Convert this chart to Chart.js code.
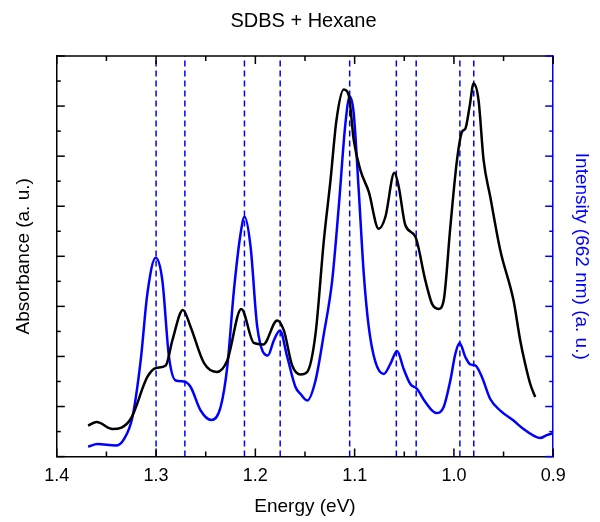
<!DOCTYPE html>
<html>
<head>
<meta charset="utf-8">
<script src="https://cdn.jsdelivr.net/npm/chart.js@4/dist/chart.umd.min.js"></script>
<style>
  html, body { margin: 0; padding: 0; background: #fff; }
  #wrap { width: 600px; height: 522px; }
</style>
</head>
<body>
<div id="wrap"><canvas id="c" width="600" height="522"></canvas></div>
<script>
// absorbance (black, left axis)
const absE = [1.3685, 1.3598, 1.344, 1.3256, 1.3088, 1.300, 1.2903, 1.2836, 1.273, 1.2652, 1.2518, 1.239, 1.2283, 1.2142,
  1.2015, 1.192, 1.178, 1.1713, 1.1629, 1.1545, 1.1478, 1.1394, 1.131, 1.1243, 1.1183, 1.111, 1.106, 1.1009, 1.0942,
  1.0858, 1.0758, 1.069, 1.060, 1.0556, 1.0489, 1.0388, 1.0288, 1.022, 1.0154, 1.0103, 1.0036, 0.9969, 0.9918, 0.9885,
  0.9842, 0.9802, 0.9752, 0.9701, 0.9634, 0.9533, 0.940, 0.9332, 0.9282, 0.9231, 0.9181];
const absV = [0.62, 0.69, 0.55, 0.75, 1.59, 1.77, 1.82, 2.32, 2.93, 2.59, 1.87, 1.69, 1.92, 2.95,
  2.27, 2.24, 2.72, 2.52, 1.82, 1.64, 1.69, 2.45, 4.32, 5.52, 6.72, 7.33, 7.22, 6.32, 5.72,
  5.29, 4.55, 4.79, 5.67, 5.39, 4.62, 4.39, 3.52, 3.05, 2.95, 3.12, 4.59, 5.92, 6.49, 6.55,
  6.99, 7.45, 7.12, 5.92, 5.19, 4.12, 3.12, 2.32, 1.85, 1.45, 1.19];

// emission intensity at 662 nm excitation (blue, right axis)
const plE = [1.3685, 1.359, 1.3406, 1.3323, 1.3238, 1.3155, 1.3088, 1.3004, 1.2937, 1.287, 1.2803, 1.272, 1.2652, 1.2551,
  1.2444, 1.235, 1.2283, 1.2216, 1.2149, 1.2109, 1.2048, 1.1981, 1.1874, 1.1814, 1.1753, 1.1679, 1.1596, 1.1545, 1.1478,
  1.1394, 1.131, 1.1226, 1.116, 1.1093, 1.1049, 1.1009, 1.0959, 1.0908, 1.0858, 1.0791, 1.0707, 1.064, 1.0573, 1.0506,
  1.0439, 1.0371, 1.0288, 1.0177, 1.0103, 1.0036, 0.9986, 0.9943, 0.9885, 0.9835, 0.9785, 0.9718, 0.9634, 0.9533, 0.940,
  0.9299, 0.9198, 0.9131, 0.9064, 0.900];
const plV = [0.20, 0.25, 0.22, 0.35, 0.79, 1.92, 3.25, 3.97, 3.52, 1.99, 1.52, 1.50, 1.39, 0.92,
  0.73, 0.99, 1.79, 3.32, 4.45, 4.79, 4.19, 2.59, 2.02, 2.32, 2.52, 1.99, 1.39, 1.25, 1.12,
  1.52, 2.45, 3.52, 4.99, 6.65, 7.19, 6.85, 5.32, 3.65, 2.59, 1.89, 1.65, 1.85, 2.11, 1.75,
  1.45, 1.35, 1.09, 0.87, 0.99, 1.52, 2.05, 2.27, 1.99, 1.84, 1.82, 1.59, 1.15, 0.92, 0.72,
  0.55, 0.42, 0.37, 0.43, 0.47];

// peak positions marked with dashed lines (eV)
const peakE = [1.300, 1.271, 1.211, 1.175, 1.105, 1.058, 1.038, 0.994, 0.980];

const xTicks = [1.4, 1.3, 1.2, 1.1, 1.0, 0.9];
const BLUE = '#0000ff';
const FONT = "'Liberation Sans', Arial, sans-serif";

const curves = [
  { data: absE.map((e, i) => ({ x: e, y: absV[i] })), borderColor: '#000', yAxisID: 'y' },
  { data: plE.map((e, i) => ({ x: e, y: plV[i] })), borderColor: BLUE, yAxisID: 'y1' },
].map(d => ({ ...d, borderWidth: 2.5, pointRadius: 0, cubicInterpolationMode: 'monotone', fill: false }));

const lines = peakE.map(e => ({
  data: [{ x: e, y: 0 }, { x: e, y: 8 }], yAxisID: 'y1',
  borderColor: BLUE, borderWidth: 1.5, borderDash: [6, 4], pointRadius: 0, fill: false,
}));

// inward major/minor ticks + top frame line
const frameTicks = {
  id: 'frameTicks',
  afterDraw(chart) {
    const { ctx, chartArea: a, scales } = chart;
    ctx.save();
    ctx.lineWidth = 1.5;
    ctx.strokeStyle = '#000';
    ctx.beginPath(); ctx.moveTo(a.left, a.top); ctx.lineTo(a.right, a.top); ctx.stroke();
    for (let i = 0; i <= 10; i++) {
      const px = scales.x.getPixelForValue(0.9 + i * 0.05);
      const len = i % 2 === 0 ? 8 : 5;
      ctx.beginPath();
      ctx.moveTo(px, a.bottom); ctx.lineTo(px, a.bottom - len);
      ctx.moveTo(px, a.top); ctx.lineTo(px, a.top + len);
      ctx.stroke();
    }
    for (let i = 0; i <= 16; i++) {
      const len = i % 2 === 0 ? 8 : 4;
      const py = scales.y.getPixelForValue(i * 0.5);
      ctx.strokeStyle = '#000';
      ctx.beginPath(); ctx.moveTo(a.left, py); ctx.lineTo(a.left + len, py); ctx.stroke();
      const py1 = scales.y1.getPixelForValue(i * 0.5);
      ctx.strokeStyle = BLUE;
      ctx.beginPath(); ctx.moveTo(a.right, py1); ctx.lineTo(a.right - len, py1); ctx.stroke();
    }
    ctx.restore();
  }
};

new Chart(document.getElementById('c'), {
  type: 'line',
  data: { datasets: [...curves, ...lines] },
  plugins: [frameTicks],
  options: {
    responsive: false,
    animation: false,
    layout: { padding: { left: 12, right: 5, top: 0, bottom: 4 } },
    plugins: {
      legend: { display: false },
      tooltip: { enabled: false },
      title: {
        display: true, text: 'SDBS + Hexane', color: '#000',
        font: { family: FONT, size: 20, weight: 'normal' },
        padding: { top: 9, bottom: 23 },
      },
    },
    scales: {
      x: {
        type: 'linear', reverse: true, min: 0.9, max: 1.4,
        afterBuildTicks: s => { s.ticks = xTicks.map(v => ({ value: v })); },
        grid: { display: false },
        border: { display: true, color: '#000', width: 1.5 },
        ticks: { color: '#000', font: { family: FONT, size: 18 }, padding: 1, callback: v => v.toFixed(1), maxRotation: 0 },
        title: { display: true, text: 'Energy (eV)', color: '#000', font: { family: FONT, size: 19 }, padding: { top: 7, bottom: 0 } },
      },
      y: {
        position: 'left', min: 0, max: 8,
        grid: { display: false },
        border: { display: true, color: '#000', width: 1.5 },
        ticks: { display: false },
        title: { display: true, text: 'Absorbance (a. u.)', color: '#000', font: { family: FONT, size: 19 }, padding: { top: 0, bottom: 14 } },
      },
      y1: {
        position: 'right', min: 0, max: 8,
        grid: { display: false },
        border: { display: true, color: BLUE, width: 1.5 },
        ticks: { display: false },
        title: { display: true, text: 'Intensity (662 nm) (a. u.)', color: BLUE, font: { family: FONT, size: 19 }, padding: { top: 2, bottom: 9 } },
      },
    },
  },
});
</script>
</body>
</html>
